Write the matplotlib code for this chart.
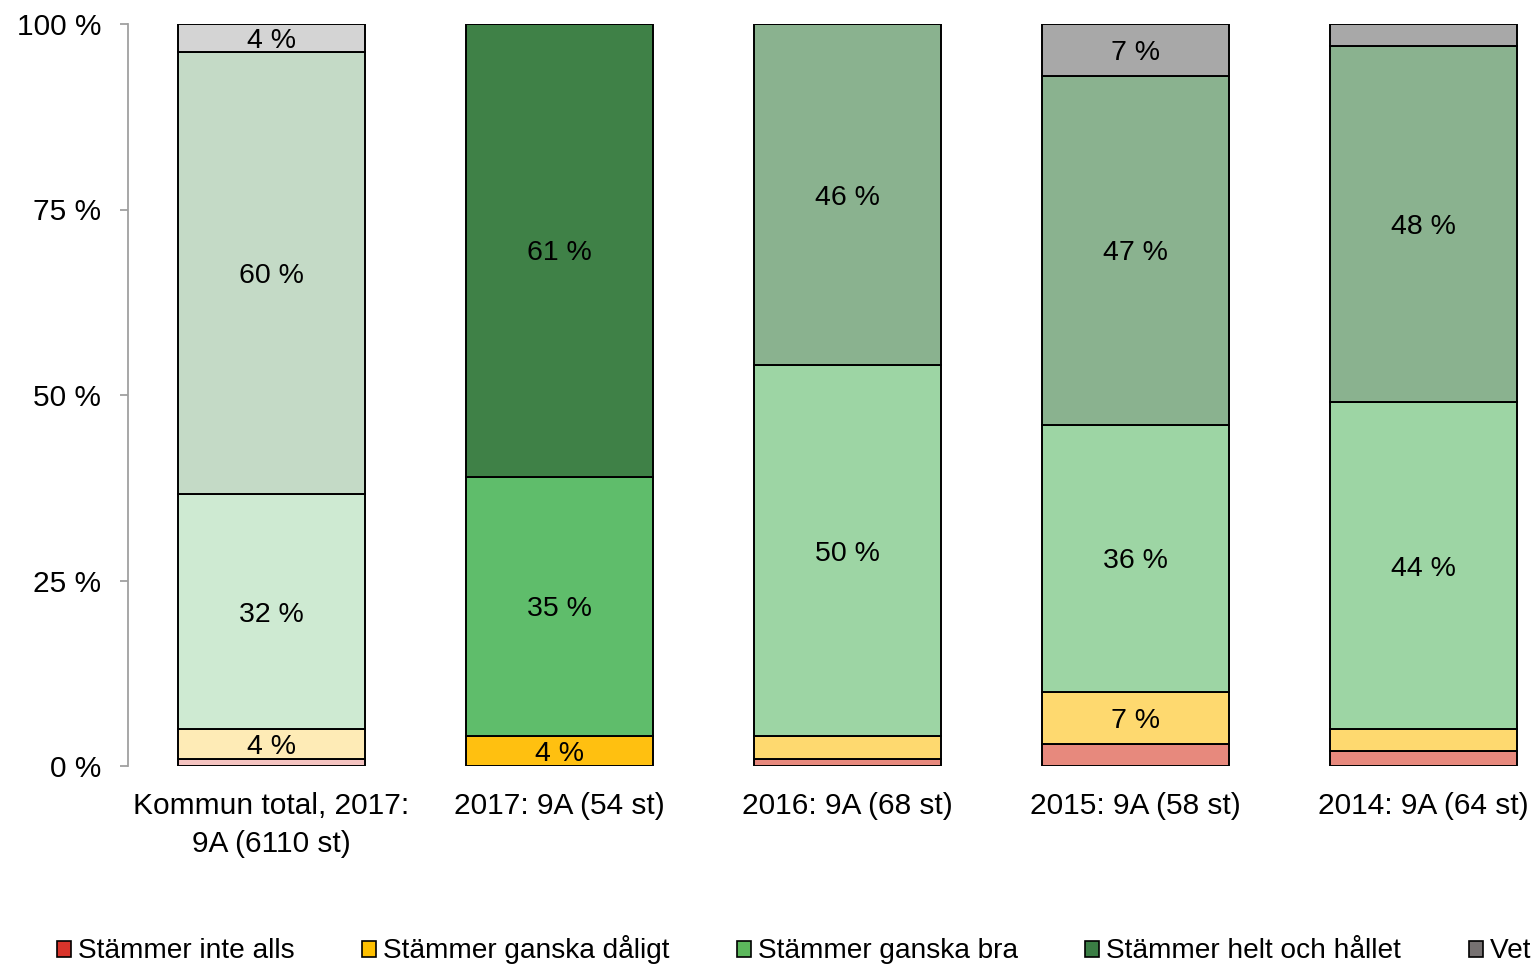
import numpy as np
import matplotlib
matplotlib.use('Agg')
import matplotlib.pyplot as plt
from matplotlib.patches import Patch

plt.rcParams['font.family'] = ['Liberation Sans', 'DejaVu Sans']

# Data (percent per group)
groups = ['Kommun total, 2017:\n9A (6110 st)', '2017: 9A (54 st)', '2016: 9A (68 st)',
          '2015: 9A (58 st)', '2014: 9A (64 st)']
series = ['Stämmer inte alls', 'Stämmer ganska dåligt', 'Stämmer ganska bra',
          'Stämmer helt och hållet', 'Vet ej']
inte_alls = [0.9, 0, 1, 3, 2]
ganska_daligt = [4.1, 4, 3, 7, 3]
ganska_bra = [31.6, 35, 50, 36, 44]
helt = [59.6, 61, 46, 47, 48]
vet_ej = [3.8, 0, 0, 7, 3]
values = [inte_alls, ganska_daligt, ganska_bra, helt, vet_ej]

# colours: light for the municipality bar, strong for the current class, medium for history
light = ['#f4c3c0', '#feebb6', '#ceead2', '#c4dac6', '#d4d4d4']
strong = ['#e03c31', '#ffc010', '#5fbd6b', '#3f8147', '#767171']
medium = ['#e7897d', '#fed96f', '#9dd5a4', '#8ab28f', '#a8a8a8']
bar_palettes = [light, strong, medium, medium, medium]
legend_colors = ['#d9342b', '#ffc000', '#5cb85c', '#3a7d44', '#767171']

fig = plt.figure(figsize=(15.36, 9.67), dpi=100)
ax = fig.add_axes([127.5 / 1536, 201 / 967, 1440 / 1536, 742 / 967])

x = np.arange(len(groups))
bottom = np.zeros(len(groups))
for si, vals in enumerate(values):
    vals = np.array(vals, dtype=float)
    cols = [bar_palettes[g][si] for g in range(len(groups))]
    bars = ax.bar(x, vals, width=0.65, bottom=bottom, color=cols,
                  edgecolor='black', linewidth=1.4, zorder=2)
    for g, b in enumerate(bars):
        if vals[g] >= 3.5:
            ax.text(b.get_x() + b.get_width() / 2, bottom[g] + vals[g] / 2,
                    f'{vals[g]:.0f} %', ha='center', va='center_baseline', fontsize=20.5)
    bottom += vals

ax.set_xlim(-0.5, 4.5)
ax.set_ylim(0, 100)
ax.set_yticks([0, 25, 50, 75, 100])
ax.set_yticklabels(['0 %', '25 %', '50 %', '75 %', '100 %'])
ax.set_xticks(x)
ax.set_xticklabels(groups, linespacing=1.42)

for s in ['top', 'right', 'bottom']:
    ax.spines[s].set_visible(False)
ax.spines['left'].set_color('#a0a0a0')
ax.spines['left'].set_linewidth(1.3)
ax.tick_params(axis='y', direction='out', length=6, width=1.3, color='#a0a0a0',
               labelsize=21.5, pad=13)
ax.tick_params(axis='x', length=0, labelsize=21.5, pad=19)

# legend runs past the right edge, as in the original
handles = [Patch(facecolor=c, edgecolor='black', linewidth=1.2) for c in legend_colors]
fig.legend(handles, series, loc='center left', bbox_to_anchor=(57 / 1536, 1 - 950 / 967),
           bbox_transform=fig.transFigure, ncol=5, frameon=False, fontsize=20.2,
           handlelength=0.5, handleheight=0.5, handletextpad=0.25,
           columnspacing=2.4, borderpad=0, borderaxespad=0)

fig.savefig('out.png', dpi=100)
